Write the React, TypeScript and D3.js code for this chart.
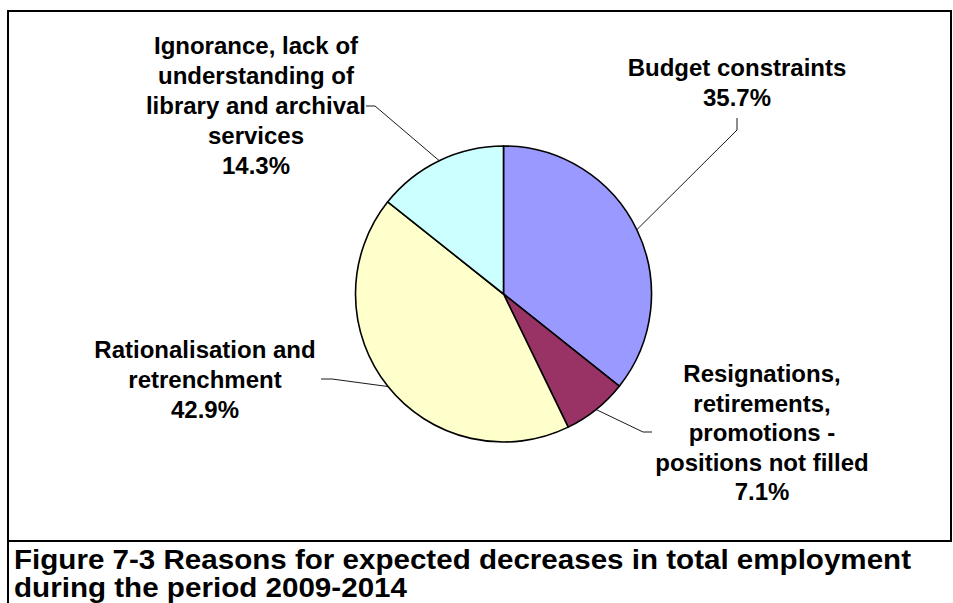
import React from "react";
import * as d3 from "d3";

const categories = [
  "Budget constraints",
  "Resignations, retirements, promotions - positions not filled",
  "Rationalisation and retrenchment",
  "Ignorance, lack of understanding of library and archival services",
];
const values = [35.7, 7.1, 42.9, 14.3];
const labelLines = [
  ["Budget constraints"],
  ["Resignations,", "retirements,", "promotions -", "positions not filled"],
  ["Rationalisation and", "retrenchment"],
  ["Ignorance, lack of", "understanding of", "library and archival", "services"],
];
const colors = ["#9999FF", "#993366", "#FFFFCC", "#CCFFFF"];
const captionLines = [
  "Figure 7-3 Reasons for expected decreases in total employment",
  "during the period 2009-2014",
];

// layout
const W = 953;
const H = 603;
const cx = 503.5;
const cy = 294;
const R = 148;
const labelLayout = [
  { x: 737, y: 76, lh: 30, elbow: [737, 130], end: [737, 118] },
  { x: 762, y: 382, lh: 29.5, elbow: [643, 432], end: [652, 432] },
  { x: 205, y: 358, lh: 30, elbow: [332, 379], end: [321, 379] },
  { x: 256, y: 54, lh: 30, elbow: [375, 106], end: [366, 106] },
];
const FONT = "'Liberation Sans', Arial, Helvetica, sans-serif";

export default function App() {
  const pie = d3.pie<number>().sort(null).value((d) => d);
  const arcs = pie(values);
  const arc = d3.arc<d3.PieArcDatum<number>>().innerRadius(0).outerRadius(R);
  const edge = d3.arc<d3.PieArcDatum<number>>().innerRadius(R).outerRadius(R);
  const fmt = d3.format(".1f");

  return (
    <svg
      width={W}
      height={H}
      style={{ position: "absolute", left: 0, top: 0, background: "#fff" }}
      fontFamily={FONT}
    >
      <rect x={0} y={0} width={W} height={H} fill="#fff" />
      <rect x={8} y={11} width={943} height={530} fill="none" stroke="#000" strokeWidth={2} />
      <line x1={8} y1={541} x2={8} y2={H} stroke="#000" strokeWidth={2} />
      <g transform={`translate(${cx},${cy})`}>
        {arcs.map((a, i) => (
          <path key={i} d={arc(a) || ""} fill={colors[i]} stroke="#000" strokeWidth={1.6} strokeLinejoin="round" />
        ))}
      </g>
      {arcs.map((a, i) => {
        const [ex, ey] = edge.centroid(a);
        const L = labelLayout[i];
        return (
          <polyline
            key={"l" + i}
            points={`${cx + ex},${cy + ey} ${L.elbow[0]},${L.elbow[1]} ${L.end[0]},${L.end[1]}`}
            fill="none"
            stroke="#000"
            strokeWidth={0.9}
          />
        );
      })}
      {categories.map((c, i) => {
        const L = labelLayout[i];
        const lines = [...labelLines[i], fmt(values[i]) + "%"];
        return (
          <text key={"t" + i} textAnchor="middle" fontWeight="bold" fontSize={24} fill="#000">
            {lines.map((ln, j) => (
              <tspan key={j} x={L.x} y={L.y + j * L.lh}>
                {ln}
              </tspan>
            ))}
          </text>
        );
      })}
      <text x={14} y={569} fontWeight="bold" fontSize={27} fill="#000" textLength={897} lengthAdjust="spacingAndGlyphs">
        {captionLines[0]}
      </text>
      <text x={14} y={597} fontWeight="bold" fontSize={27} fill="#000" textLength={393} lengthAdjust="spacingAndGlyphs">
        {captionLines[1]}
      </text>
    </svg>
  );
}
